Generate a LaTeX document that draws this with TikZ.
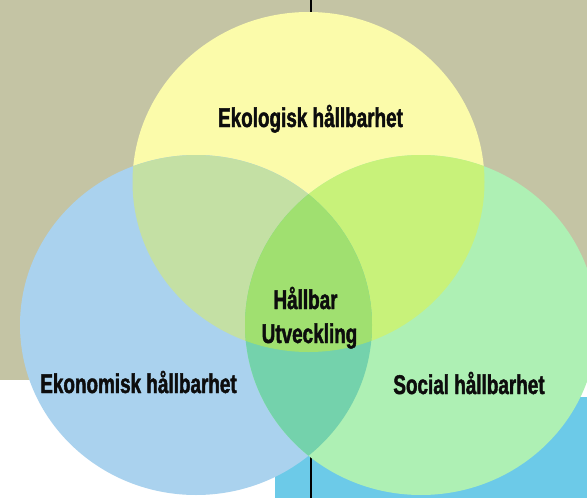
\documentclass[tikz,border=0pt]{standalone}
\usepackage{fontspec}
\newfontfamily\labfont[FakeStretch=0.70,FakeBold=1.6]{Liberation Sans}
\definecolor{khaki}{RGB}{196,196,164}
\definecolor{bgblue}{RGB}{108,202,232}
\definecolor{ycol}{RGB}{251,251,170}
\definecolor{bcol}{RGB}{170,210,238}
\definecolor{gcol}{RGB}{174,240,180}
\definecolor{ybcol}{RGB}{196,224,164}
\definecolor{ygcol}{RGB}{200,242,122}
\definecolor{bgcol}{RGB}{116,210,172}
\definecolor{allcol}{RGB}{160,224,112}
\tikzset{
  lab/.style={anchor=base, inner sep=0pt, text=black!95, font=\labfont\bfseries\fontsize{27}{30}\selectfont}
}
\begin{document}
\begin{tikzpicture}[x=1pt,y=-1pt]
\useasboundingbox (0,0) rectangle (587,498);
\fill[white] (0,0) rectangle (587,498);
\fill[khaki] (0,0) rectangle (587,380);
\fill[bgblue] (275,397) rectangle (587,498);
\draw[line width=1.6pt] (311,0) -- (311,498);
\def\Ycirc{(308.5,182) ellipse [x radius=176pt, y radius=170pt]}
\def\Bcirc{(196,325) ellipse [x radius=176pt, y radius=170pt]}
\def\Gcirc{(421,325) ellipse [x radius=176pt, y radius=170pt]}
\fill[ycol] \Ycirc;
\fill[bcol] \Bcirc;
\fill[gcol] \Gcirc;
\begin{scope}
  \clip \Ycirc;
  \fill[ybcol] \Bcirc;
  \fill[ygcol] \Gcirc;
\end{scope}
\begin{scope}
  \clip \Bcirc;
  \fill[bgcol] \Gcirc;
\end{scope}
\begin{scope}
  \clip \Ycirc;
  \clip \Bcirc;
  \fill[allcol] \Gcirc;
\end{scope}
\node[lab] (eko) at (310.5,127) {Ekologisk hållbarhet};
\node[lab] (ekon) at (138.5,393) {Ekonomisk hållbarhet};
\node[lab] (soc) at (469,394) {Social hållbarhet};
\node[lab] (hb) at (305.5,309) {Hållbar};
\node[lab] (utv) at (309.5,343) {Utveckling};
\end{tikzpicture}
\end{document}
